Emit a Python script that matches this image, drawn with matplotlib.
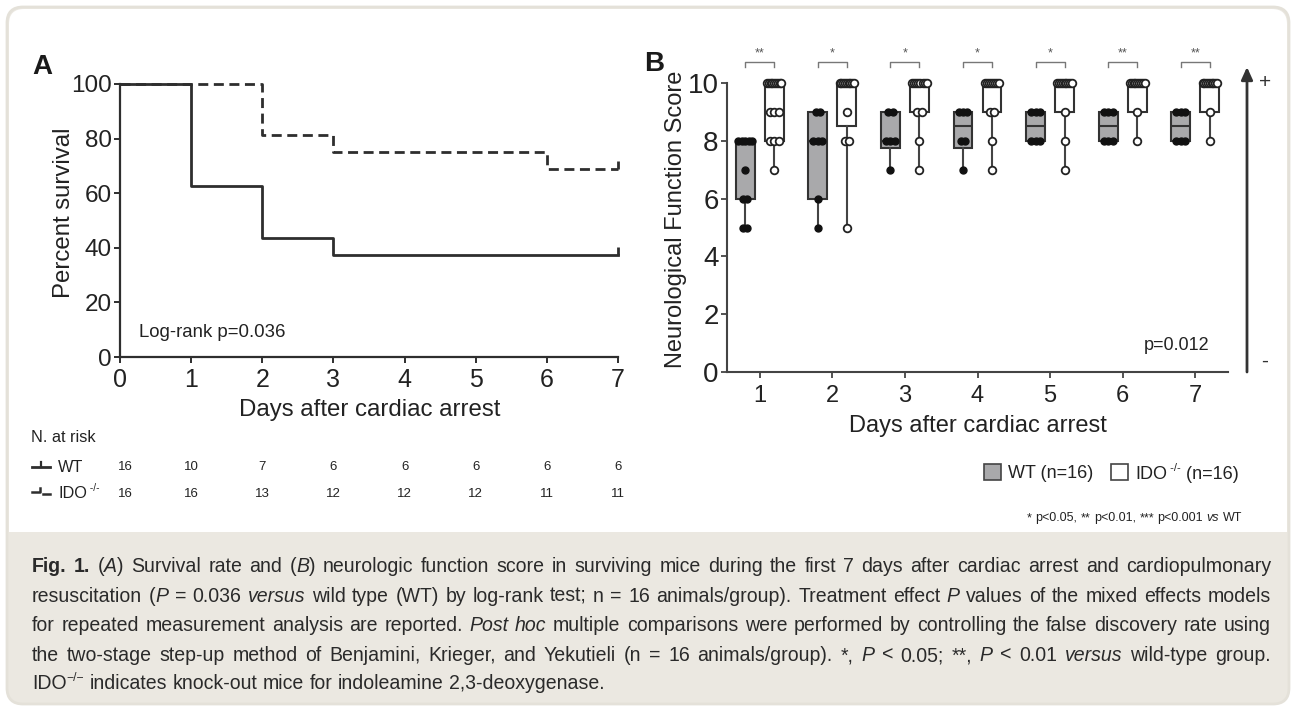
import numpy as np
import matplotlib
matplotlib.use('Agg')
import matplotlib.pyplot as plt
from matplotlib import font_manager
from matplotlib.patches import FancyBboxPatch, Rectangle, FancyArrowPatch
from matplotlib.transforms import IdentityTransform, blended_transform_factory

W, H = 1294, 707
names = {f.name for f in font_manager.fontManager.ttflist}
SANS = 'Liberation Sans' if 'Liberation Sans' in names else 'DejaVu Sans'
NARROW = 'Liberation Sans Narrow' if 'Liberation Sans Narrow' in names else SANS
plt.rcParams['font.family'] = [SANS, 'DejaVu Sans']

# ---- data: panel A (Kaplan-Meier) ----
km_days = [0, 1, 2, 3, 4, 5, 6, 7]
wt_at_risk = [16, 10, 7, 6, 6, 6, 6, 6]
ido_at_risk = [16, 16, 13, 12, 12, 12, 11, 11]
wt_survival = [100, 62.5, 43.75, 37.5, 37.5, 37.5, 37.5, 37.5]
ido_survival = [100, 100, 81.25, 75, 75, 75, 68.75, 68.75]

# ---- data: panel B (neuro score) ----
score_days = [1, 2, 3, 4, 5, 6, 7]
wt_scores = [
    [8, 8, 8, 8, 8, 7, 6, 6, 5, 5],
    [9, 9, 8, 8, 8, 6, 5],
    [9, 9, 8, 8, 8, 7],
    [9, 9, 9, 8, 8, 7],
    [9, 9, 9, 8, 8, 8],
    [9, 9, 9, 8, 8, 8],
    [9, 9, 9, 8, 8, 8],
]
ido_scores = [
    [10] * 9 + [9, 9, 9, 8, 8, 8, 7],
    [10] * 9 + [9, 8, 8, 5],
    [10] * 8 + [9, 9, 8, 7],
    [10] * 8 + [9, 9, 8, 7],
    [10] * 9 + [9, 8, 7],
    [10] * 9 + [9, 8],
    [10] * 9 + [9, 8],
]
wt_q1 = [6, 6, 7.75, 7.75, 8, 8, 8]
wt_med = [8, 8, 8, 8.5, 8.5, 8.5, 8.5]
wt_q3 = [8, 9, 9, 9, 9, 9, 9]
wt_lo = [5, 5, 7, 7, 8, 8, 8]
wt_hi = [8, 9, 9, 9, 9, 9, 9]
ido_q1 = [8, 8.5, 9, 9, 9, 9, 9]
ido_med = [10, 10, 10, 10, 10, 10, 10]
ido_q3 = [10, 10, 10, 10, 10, 10, 10]
ido_lo = [7, 5, 7, 7, 7, 8, 8]
ido_hi = [10, 10, 10, 10, 10, 10, 10]
sig_marks = ['**', '*', '*', '*', '*', '**', '**']

caption = [
    "#Fig. 1.#  (~A~) Survival rate and (~B~) neurologic function score in surviving mice during the first 7 days after cardiac arrest and cardiopulmonary",
    "resuscitation (~P~ = 0.036 ~versus~ wild type (WT) by log-rank test; n = 16 animals/group). Treatment effect ~P~ values of the mixed effects models",
    "for repeated measurement analysis are reported. ~Post hoc~ multiple comparisons were performed by controlling the false discovery rate using",
    "the two-stage step-up method of Benjamini, Krieger, and Yekutieli (n = 16 animals/group). *, ~P~ < 0.05; **, ~P~ < 0.01 ~versus~ wild-type group.",
    "IDO^\u2212/\u2212^ indicates knock-out mice for indoleamine 2,3-deoxygenase.",
]

INK = '#2e2e2e'
BEIGE = '#ebe8e1'
BORDER = '#e4e1d9'
FAM_A = [NARROW, 'DejaVu Sans']

fig = plt.figure(figsize=(W / 100, H / 100), dpi=100)
fig.patch.set_facecolor('white')
px = IdentityTransform()


def fx(x):
    return x / W


def fy(y):
    return 1 - y / H


# card background
fig.add_artist(FancyBboxPatch((7, 3), 1282, 697, boxstyle='round,pad=0,rounding_size=16',
                              transform=px, fc=BEIGE, ec=BORDER, lw=2, zorder=-10))
fig.add_artist(FancyBboxPatch((9, 175), 1278, 523, boxstyle='round,pad=0,rounding_size=15',
                              transform=px, fc='white', ec='none', zorder=-9))
fig.add_artist(Rectangle((9, 175), 1278, 30, transform=px, fc='white', ec='none', zorder=-9))

renderer = fig.canvas.get_renderer()


def kw_for(style, size):
    if style == 'i':
        return dict(style='italic', fontsize=size)
    if style == 'b':
        return dict(weight='bold', fontsize=size)
    if style == 'sup':
        return dict(fontsize=size * 0.62)
    return dict(fontsize=size)


def text_w(s, family, **kw):
    t = fig.text(0, 0, s, family=family, **kw)
    w = t.get_window_extent(renderer).width
    t.remove()
    return w


def parse_line(line):
    words, cur, seg, style = [], [], '', 'n'
    toggles = {'~': 'i', '^': 'sup', '#': 'b'}
    for ch in line + ' ':
        if ch in toggles:
            if seg:
                cur.append((seg, style))
            seg = ''
            style = 'n' if style == toggles[ch] else toggles[ch]
        elif ch == ' ':
            if seg:
                cur.append((seg, style))
            seg = ''
            if cur:
                words.append(cur)
            cur = []
        else:
            seg += ch
    return words


def word_w(word, family, size):
    return sum(text_w(s, family, **kw_for(st, size)) for s, st in word)


def space_w(family, size):
    return text_w('a a', family, fontsize=size) - text_w('aa', family, fontsize=size)


def natural_w(line, family, size):
    words = parse_line(line)
    return sum(word_w(w, family, size) for w in words) + space_w(family, size) * (len(words) - 1)


def draw_word(word, x, ybase, family, size, color):
    for s, st in word:
        kw = kw_for(st, size)
        yy = ybase - (size * 0.42 * 100 / 72 if st == 'sup' else 0)
        fig.text(fx(x), fy(yy), s, family=family, va='baseline', ha='left', color=color, **kw)
        x += text_w(s, family, **kw)
    return x


def draw_line(line, left, right, ybase, family, size, color, justify=True, align='left'):
    words = parse_line(line)
    widths = [word_w(w, family, size) for w in words]
    space = space_w(family, size)
    if justify and len(words) > 1:
        gap = (right - left - sum(widths)) / (len(words) - 1)
    else:
        gap = space
    total = sum(widths) + gap * (len(words) - 1)
    x = left if align == 'left' else right - total
    for w, wd in zip(words, widths):
        draw_word(w, x, ybase, family, size, color)
        x += wd + gap


# ---------------- panel A ----------------
axA = fig.add_axes([fx(120), fy(357), 498 / W, 273 / H])
axA.set_facecolor('none')
axA.step(km_days, wt_survival, where='post', color=INK, lw=2, clip_on=False)
axA.step(km_days, ido_survival, where='post', color=INK, lw=2, ls=(0, (3.6, 2)), clip_on=False)
axA.plot([km_days[-1]], [wt_survival[-1]], marker=2, ms=6, mew=2, color=INK, clip_on=False)
axA.plot([km_days[-1]], [ido_survival[-1]], marker=2, ms=6, mew=2, color=INK, clip_on=False)
axA.set_xlim(0, 7)
axA.set_ylim(0, 100)
axA.set_xticks(km_days)
axA.set_yticks([0, 20, 40, 60, 80, 100])
for s in ['top', 'right']:
    axA.spines[s].set_visible(False)
for s in ['left', 'bottom']:
    axA.spines[s].set_color(INK)
    axA.spines[s].set_linewidth(1.6)
axA.tick_params(axis='both', colors=INK, width=1.4, length=4.5, labelcolor='#222')
axA.tick_params(axis='y', labelsize=17.5, pad=1.5)
axA.tick_params(axis='x', labelsize=18, pad=3.5)
for lab in axA.get_xticklabels() + axA.get_yticklabels():
    lab.set_family(FAM_A)
axA.text(0.27, 9, 'Log-rank p=0.036', fontsize=13.4, family=FAM_A, color='#222', va='center')
fig.text(fx(64), fy(213), 'Percent survival', rotation=90, ha='center', va='center',
         fontsize=17.3, family=FAM_A, color='#222')
fig.text(fx(370), fy(410), 'Days after cardiac arrest', ha='center', va='center',
         fontsize=17.3, family=FAM_A, color='#222')
fig.text(fx(32), fy(67), 'A', fontsize=20, weight='bold', ha='left', va='center', color='#1a1a1a')

# number at risk table
fig.text(fx(31), fy(438), 'N. at risk', fontsize=11.7, family=FAM_A, va='center', color='#222')
trA = blended_transform_factory(axA.transData, fig.transFigure)
for i, d in enumerate(km_days):
    xoff = 0.08 if i == 0 else 0
    axA.text(d + xoff, fy(467), str(wt_at_risk[i]), transform=trA, ha='center', va='center',
             fontsize=9.5, family=FAM_A, color='#222')
    axA.text(d + xoff, fy(494), str(ido_at_risk[i]), transform=trA, ha='center', va='center',
             fontsize=9.5, family=FAM_A, color='#222')
fig.add_artist(plt.Line2D([fx(32), fx(50)], [fy(467), fy(467)], color=INK, lw=2))
fig.add_artist(plt.Line2D([fx(41), fx(41)], [fy(467), fy(462)], color=INK, lw=1.6))
fig.add_artist(plt.Line2D([fx(32), fx(38), fx(40), fx(40)], [fy(492), fy(492), fy(492), fy(488)],
                          color=INK, lw=1.8))
fig.add_artist(plt.Line2D([fx(43), fx(50)], [fy(494), fy(494)], color=INK, lw=1.8))
fig.text(fx(58), fy(467), 'WT', fontsize=11.7, family=FAM_A, va='center', color='#222')
draw_word([('IDO', 'n'), (' -/-', 'sup')], 58, 498, FAM_A, 11.7, '#222')

# ---------------- panel B ----------------
axB = fig.add_axes([fx(727), fy(372), 501 / W, 289 / H])
axB.set_facecolor('none')
stats_wt = [dict(med=m, q1=a, q3=b, whislo=lo, whishi=hi)
            for m, a, b, lo, hi in zip(wt_med, wt_q1, wt_q3, wt_lo, wt_hi)]
stats_ido = [dict(med=m, q1=a, q3=b, whislo=lo, whishi=hi)
             for m, a, b, lo, hi in zip(ido_med, ido_q1, ido_q3, ido_lo, ido_hi)]
pos_wt = [d - 0.2 for d in score_days]
pos_ido = [d + 0.2 for d in score_days]
for stats, pos, fc in [(stats_wt, pos_wt, '#a9a9ab'), (stats_ido, pos_ido, 'white')]:
    art = axB.bxp(stats, positions=pos, widths=0.26, patch_artist=True, showfliers=False,
                  showcaps=False, manage_ticks=False,
                  boxprops=dict(facecolor=fc, edgecolor='#333', linewidth=1.5),
                  medianprops=dict(color='#333', linewidth=1.5),
                  whiskerprops=dict(color='#444', linewidth=1.5))
    for group in art.values():
        for a in group:
            a.set_clip_on(False)

# individual points spread horizontally
for group, pos, filled in [(wt_scores, pos_wt, True), (ido_scores, pos_ido, False)]:
    for vals, p in zip(group, pos):
        v, c = np.unique(vals, return_counts=True)
        for val, k in zip(v, c):
            half = min((k - 1) * 0.06 / 2, 0.1)
            xs = np.linspace(p - half, p + half, k) if k > 1 else np.array([p])
            if filled:
                axB.plot(xs, [val] * k, 'o', ms=5, color='#111', mec='#111', clip_on=False, zorder=5)
            else:
                axB.plot(xs, [val] * k, 'o', ms=5.5, mfc='white', mec='#222', mew=1.3,
                         clip_on=False, zorder=5)

for d, mark in zip(score_days, sig_marks):
    axB.plot([d - 0.2, d - 0.2, d + 0.2, d + 0.2], [10.55, 10.73, 10.73, 10.55], color='#777',
             lw=1, clip_on=False)
    axB.text(d, 10.8, mark, ha='center', va='bottom', fontsize=9, color='#555')

axB.set_xlim(0.55, 7.45)
axB.set_ylim(0, 10)
axB.set_xticks(score_days)
axB.set_yticks([0, 2, 4, 6, 8, 10])
for s in ['top', 'right']:
    axB.spines[s].set_visible(False)
for s in ['left', 'bottom']:
    axB.spines[s].set_color('#444')
    axB.spines[s].set_linewidth(1.5)
axB.tick_params(axis='both', colors='#444', width=1.3, length=4.5, labelcolor='#222')
axB.tick_params(axis='y', labelsize=20, pad=1.5)
axB.tick_params(axis='x', labelsize=17, pad=5)
axB.text(7.2, 0.9, 'p=0.012', ha='right', va='center', fontsize=13, color='#222')
fig.text(fx(676), fy(219), 'Neurological Function Score', rotation=90, ha='center', va='center',
         fontsize=17, color='#222')
fig.text(fx(978), fy(426), 'Days after cardiac arrest', ha='center', va='center',
         fontsize=17, color='#222')
fig.text(fx(644), fy(64), 'B', fontsize=20, weight='bold', ha='left', va='center', color='#1a1a1a')

# direction arrow
fig.add_artist(FancyArrowPatch((fx(1247), fy(372)), (fx(1247), fy(67)), transform=fig.transFigure,
                               arrowstyle='-|>,head_width=3.4,head_length=7.5', lw=2, color='#333',
                               mutation_scale=1, shrinkA=0, shrinkB=0))
fig.text(fx(1265), fy(83), '+', fontsize=15, ha='center', va='center', color='#333')
fig.text(fx(1265), fy(361), '-', fontsize=15, ha='center', va='center', color='#333')

# legend
fig.add_artist(Rectangle((fx(984), fy(480)), 17 / W, 16 / H, transform=fig.transFigure,
                         fc='#a9a9ab', ec='#444', lw=1.2))
fig.text(fx(1008), fy(473), 'WT (n=16)', fontsize=13, va='center', color='#222')
fig.add_artist(Rectangle((fx(1111), fy(480)), 17 / W, 16 / H, transform=fig.transFigure,
                         fc='white', ec='#444', lw=1.2))
draw_word([('IDO', 'n'), (' -/-', 'sup'), (' (n=16)', 'n')], 1135, 479, SANS, 13, '#222')

# footnote
draw_line("* p<0.05, ** p<0.01, *** p<0.001 ~vs~ WT", 900, 1242, 521, FAM_A,
          9, '#222', justify=False, align='right')

# caption: shrink the font until the widest line fits, then justify
cap_left, cap_right = 32, 1271
cap_size = 17
widest = max(natural_w(line, FAM_A, cap_size) for line in caption)
if widest > (cap_right - cap_left) * 0.985:
    cap_size = cap_size * (cap_right - cap_left) * 0.985 / widest
baselines = [572, 602, 631, 661, 689]
for i, (line, yb) in enumerate(zip(caption, baselines)):
    draw_line(line, cap_left, cap_right, yb, FAM_A, cap_size, '#2a2a2a',
              justify=(i < len(caption) - 1))

fig.savefig('out.png', dpi=100)
